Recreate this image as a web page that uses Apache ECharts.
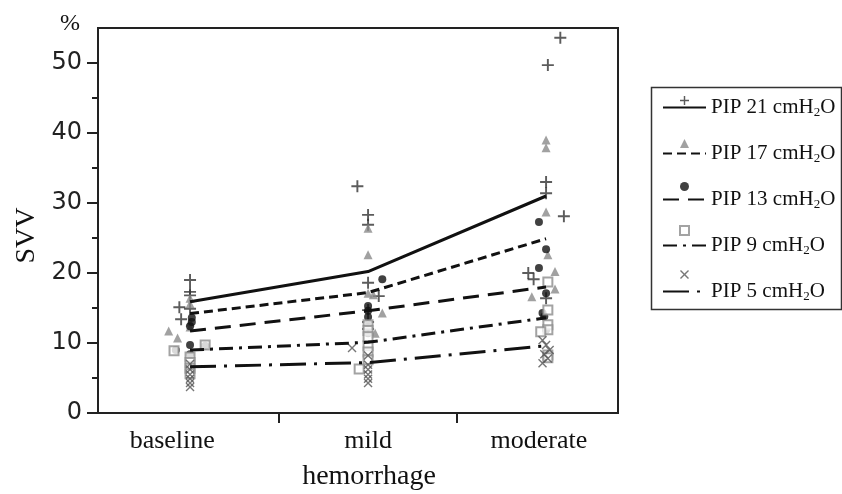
<!DOCTYPE html>
<html>
<head>
<meta charset="utf-8">
<script src="https://cdn.jsdelivr.net/npm/echarts@6/dist/echarts.min.js"></script>
<style>
  html, body { margin: 0; padding: 0; background: #fff; }
  #main { width: 842px; height: 494px; }
</style>
</head>
<body>
<div id="main"></div>
<script>
// categories sit at x = 0, 1, 2 on a value axis (points are jittered a little)
var categories = ['baseline', 'mild', 'moderate'];
var catPos = [0, 1, 2];
var labelPos = [-0.1, 1, 1.96];
var tickPos = [0.5, 1.5];
var yTicks = [0, 10, 20, 30, 40, 50];

// group means (lines)
var mean21 = [15.9, 20.2, 31.0];
var mean17 = [14.2, 17.2, 24.9];
var mean13 = [11.7, 14.6, 18.0];
var mean9  = [9.0, 10.1, 13.6];
var mean5  = [6.6, 7.2, 9.6];

// individual values [x, y]
var pts21 = [[0, 19.0], [0, 17.3], [0, 16.8], [-0.06, 15.1], [0, 14.9], [-0.05, 13.4],
             [0.94, 32.4], [1, 28.3], [1, 26.9], [1, 18.6], [1.06, 16.7], [1, 14.7], [1, 13.0], [1, 12.0],
             [2.08, 53.6], [2.01, 49.7], [2, 33.0], [2, 31.4], [2.1, 28.1], [1.9, 20.0], [1.93, 19.1], [2, 16.4]];
var pts17 = [[0, 16.4], [0, 15.6], [0, 13.0], [0, 12.3], [-0.12, 11.7], [-0.07, 10.7],
             [1, 26.4], [1, 22.6], [1, 17.1], [1.03, 16.9], [1.08, 14.3], [1.04, 11.4], [1, 12.8],
             [2, 39.0], [2, 37.9], [2, 28.7], [2.01, 22.6], [2.05, 20.2], [2.05, 17.7], [1.92, 16.6]];
var pts13 = [[0.01, 13.6], [0.01, 13.0], [0, 12.4], [0, 9.7], [0, 8.4], [-0.08, 9.0], [0.085, 9.6],
             [1.08, 19.1], [1, 15.3], [1, 14.6], [1, 13.7], [1, 12.4], [1, 11.4],
             [1.96, 27.3], [2, 23.4], [1.96, 20.7], [2, 17.1], [1.98, 14.3], [1.99, 13.8], [2, 11.9]];
var pts9  = [[-0.09, 8.9], [0.085, 9.7], [0, 8.0], [0, 7.2], [0, 6.4], [0, 5.6],
             [0.95, 6.3], [1, 12.6], [1, 11.8], [1, 10.9], [1, 9.6], [1, 8.7], [1, 7.6],
             [2.01, 18.7], [2.01, 14.7], [2.01, 12.6], [2.01, 11.9], [1.97, 11.6], [2.01, 8.3], [2.01, 7.9]];
var pts5  = [[0, 7.0], [0, 6.2], [0, 5.5], [0, 4.9], [0, 4.3], [0, 3.7],
             [0.91, 9.3], [1, 8.2], [1, 6.9], [1, 6.2], [1, 5.5], [1, 4.9], [1, 4.3],
             [1.98, 10.4], [2, 9.7], [2.02, 9.0], [1.99, 8.4], [2.01, 7.8], [1.98, 7.1]];

var names = ['PIP 21 cmH2O', 'PIP 17 cmH2O', 'PIP 13 cmH2O', 'PIP 9 cmH2O', 'PIP 5 cmH2O'];

var plusPath = 'path://M4.2,0h1.6v4.2h4.2v1.6h-4.2v4.2h-1.6v-4.2h-4.2v-1.6h4.2z';
var crossPath = 'path://M1.1,0L5,3.9L8.9,0L10,1.1L6.1,5L10,8.9L8.9,10L5,6.1L1.1,10L0,8.9L3.9,5L0,1.1Z';

var groups = [
  { mean: mean21, pts: pts21, dash: 'solid', symbol: plusPath, size: 12, color: '#333' },
  { mean: mean17, pts: pts17, dash: [9, 5], symbol: 'triangle', size: 9, color: '#8a8a8a' },
  { mean: mean13, pts: pts13, dash: [16, 9], symbol: 'circle', size: 8, color: '#111' },
  { mean: mean9,  pts: pts9,  dash: [14, 6, 3, 6], symbol: 'rect', size: 9, color: '#8c8c8c', hollow: true },
  { mean: mean5,  pts: pts5,  dash: [26, 8, 3, 8], symbol: crossPath, size: 9, color: '#555' }
];

var series = [];
groups.forEach(function (g, i) {
  series.push({
    name: names[i] + ' ',
    type: 'scatter',
    symbol: g.symbol,
    symbolSize: g.size,
    itemStyle: g.hollow
      ? { color: '#fff', borderColor: g.color, borderWidth: 2 }
      : { color: g.color },
    data: g.pts,
    z: 2
  });
});
groups.forEach(function (g, i) {
  series.push({
    name: names[i],
    type: 'line',
    symbol: 'none',
    color: '#111',
    lineStyle: { color: '#111', width: 3, type: g.dash, cap: 'butt' },
    data: catPos.map(function (x, k) { return [x, g.mean[k]]; }),
    z: 3
  });
});

var myChart = echarts.init(document.getElementById('main'));
var option = {
  animation: false,
  backgroundColor: '#fff',
  grid: {
    left: 98, right: 224, top: 28, bottom: 81, outerBoundsMode: 'none',
    show: true, borderColor: '#222', borderWidth: 2
  },
  xAxis: {
    type: 'value', min: -0.517, max: 2.404,
    axisLine: { show: true, onZero: false, lineStyle: { color: '#222', width: 2 } },
    splitLine: { show: false },
    axisTick: { show: true, customValues: tickPos, length: 10, lineStyle: { color: '#222', width: 2 } },
    axisLabel: {
      customValues: labelPos,
      formatter: function (v) {
        var best = 0;
        labelPos.forEach(function (p, k) { if (Math.abs(p - v) < Math.abs(labelPos[best] - v)) best = k; });
        return categories[best];
      },
      fontFamily: 'Liberation Serif', fontSize: 26, color: '#111', margin: 15
    },
    name: 'hemorrhage', nameLocation: 'middle', nameGap: 50,
    nameTextStyle: { fontFamily: 'Liberation Serif', fontSize: 28, color: '#111', padding: [0, 0, 0, 22] }
  },
  yAxis: [{
    type: 'value', min: 0, max: 55, interval: 10,
    axisLine: { show: true, onZero: false, lineStyle: { color: '#222', width: 2 } },
    axisTick: { show: true, customValues: yTicks, length: 11, lineStyle: { color: '#222', width: 2 } },
    minorTick: { show: true, splitNumber: 2, length: 6, lineStyle: { color: '#222', width: 2 } },
    splitLine: { show: false },
    axisLabel: { customValues: yTicks, fontFamily: 'DejaVu Sans', fontSize: 24, color: '#222', margin: 16 },
    name: 'SVV', nameLocation: 'middle', nameGap: 55,
    nameTextStyle: { fontFamily: 'Liberation Serif', fontSize: 28, color: '#111', padding: [0, 30, 0, 0] }
  }, {
    type: 'value', min: 0, max: 55, position: 'left',
    axisLine: { show: false, onZero: false }, axisTick: { show: false }, axisLabel: { show: false }, splitLine: { show: false },
    name: '%', nameLocation: 'end', nameGap: -8,
    nameTextStyle: { fontFamily: 'Liberation Serif', fontSize: 24, color: '#111', align: 'right', padding: [0, 18, 0, 0] }
  }],
  legend: [{
    data: names,
    orient: 'vertical', left: 662, top: 96, padding: 0,
    itemWidth: 43, itemHeight: 14, itemGap: 23,
    itemStyle: { opacity: 0 },
    formatter: function (n) { return n.replace('H2O', 'H{sub|2}O'); },
    textStyle: {
      fontFamily: 'Liberation Serif', fontSize: 21, color: '#111', lineHeight: 23,
      rich: { sub: { fontFamily: 'Liberation Serif', fontSize: 13, lineHeight: 13, verticalAlign: 'bottom' } }
    }
  }, {
    data: names.map(function (n) { return n + ' '; }),
    orient: 'vertical', left: 679, top: 96, padding: 0,
    itemWidth: 9, itemHeight: 9, itemGap: 34,
    formatter: function () { return ''; },
    textStyle: { fontSize: 6 }
  }],
  graphic: [{
    type: 'rect', left: 649, top: 85,
    shape: { width: 190, height: 222 },
    style: { fill: 'none', stroke: '#333', lineWidth: 1.5 }
  }],
  series: series
};
myChart.setOption(option);
</script>
</body>
</html>
